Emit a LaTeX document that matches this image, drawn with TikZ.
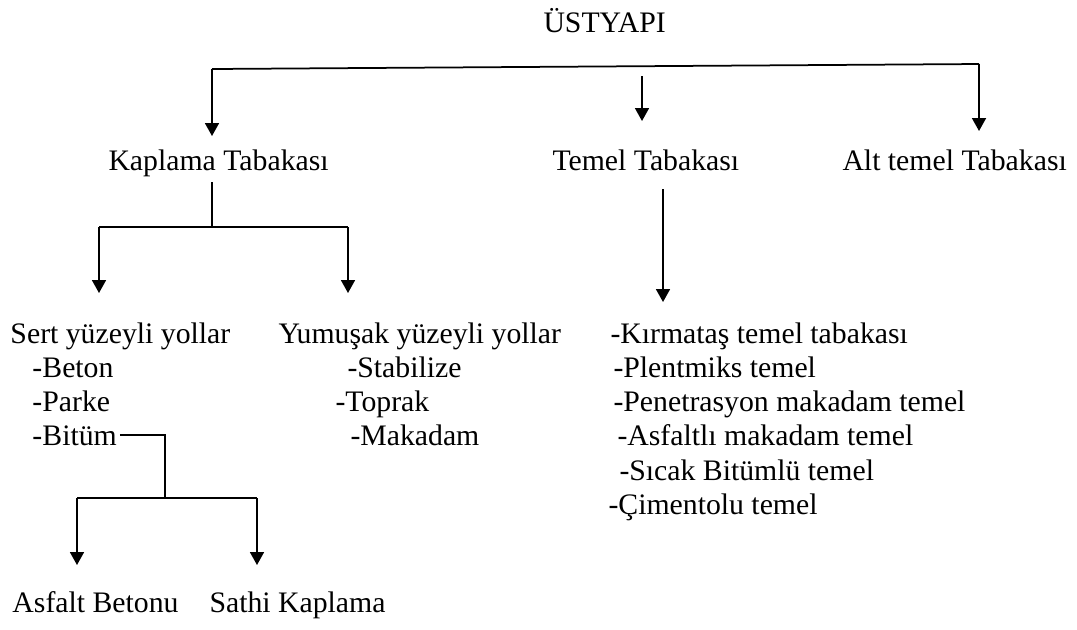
\documentclass[tikz,border=0pt]{standalone}
\usepackage{fontspec}
\setmainfont{Liberation Serif}
\usetikzlibrary{arrows.meta}
\tikzset{lbl/.style={anchor=base west, inner sep=0pt, font=\fontsize{11.9}{14}\selectfont},
  conn/.style={line width=0.7pt},
  arr/.style={conn, -{Triangle[length=5.2pt,width=5.6pt]}}}

\begin{document}
\begin{tikzpicture}[x=0.4pt,y=-0.4pt]
      \useasboundingbox (0,0) rectangle (1077,629);
      \node[lbl, name=ust] at (543,32){ÜSTYAPI};
      \node[lbl, name=kap] at (108,170){Kaplama Tabakası};
      \node[lbl, name=tem] at (552,170){Temel Tabakası};
      \node[lbl, name=alt] at (842,170){Alt temel Tabakası};
      \node[lbl, name=sert] at (10,343){Sert yüzeyli yollar};
      \node[lbl, name=bet] at (32,377){-Beton};
      \node[lbl, name=par] at (32,411){-Parke};
      \node[lbl, name=bit] at (32,445){-Bitüm};
      \node[lbl, name=yum] at (278,343){Yumuşak yüzeyli yollar};
      \node[lbl, name=sta] at (347,377){-Stabilize};
      \node[lbl, name=top] at (335,411){-Toprak};
      \node[lbl, name=mak] at (350,445){-Makadam};
      \node[lbl, name=kir] at (610,343){-Kırmataş temel tabakası};
      \node[lbl, name=ple] at (613,377){-Plentmiks temel};
      \node[lbl, name=pen] at (613,411){-Penetrasyon makadam temel};
      \node[lbl, name=asf] at (617,445){-Asfaltlı makadam temel};
      \node[lbl, name=sic] at (619,480){-Sıcak Bitümlü temel};
      \node[lbl, name=cim] at (608,514){-Çimentolu temel};
      \node[lbl, name=abet] at (12,612){Asfalt Betonu};
      \node[lbl, name=sat] at (209,612){Sathi Kaplama};
      \coordinate (ust-l) at (212,69);
      \coordinate (ust-r) at (979,64);
      \coordinate (kap-in) at (212,136);
      \coordinate (tem-top) at (642,76);
      \coordinate (tem-in) at (642,121);
      \coordinate (alt-in) at (979,131);
      \coordinate (kap-out) at (212,182);
      \coordinate (kap-j) at (212,227);
      \coordinate (sert-j) at (99,227);
      \coordinate (yum-j) at (348,227);
      \coordinate (sert-in) at (99,293);
      \coordinate (yum-in) at (348,293);
      \coordinate (tem-out) at (663,189);
      \coordinate (kir-in) at (663,302);
      \coordinate (bit-j) at (165,498);
      \coordinate (abet-j) at (77,498);
      \coordinate (sat-j) at (257,498);
      \coordinate (abet-in) at (77,565);
      \coordinate (sat-in) at (257,565);
      \draw[conn] (ust-l) -- (ust-r);
      \draw[arr] (ust-l) -- (kap-in);
      \draw[arr] (tem-top) -- (tem-in);
      \draw[arr] (ust-r) -- (alt-in);
      \draw[conn] (kap-out) -- (kap-j);
      \draw[conn] (sert-j) -- (yum-j);
      \draw[arr] (sert-j) -- (sert-in);
      \draw[arr] (yum-j) -- (yum-in);
      \draw[arr] (tem-out) -- (kir-in);
      \draw[conn] ([xshift=1pt]bit.east) -| (bit-j);
      \draw[conn] (abet-j) -- (sat-j);
      \draw[arr] (abet-j) -- (abet-in);
      \draw[arr] (sat-j) -- (sat-in);
   \end{tikzpicture}
\end{document}
